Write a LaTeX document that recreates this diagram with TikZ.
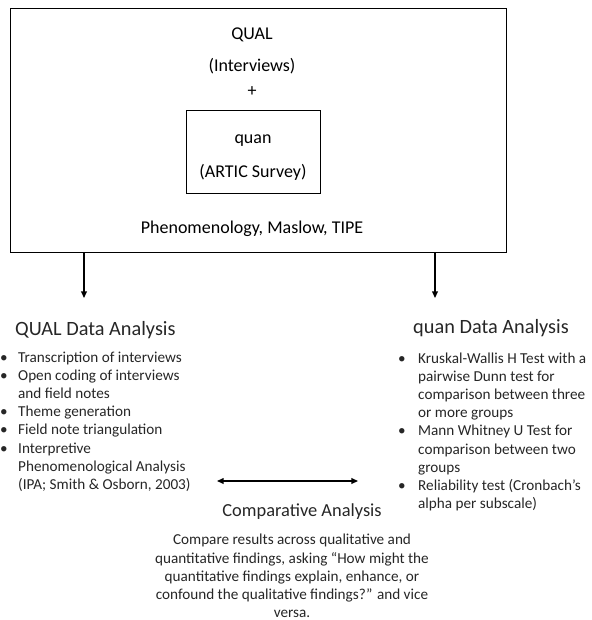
\documentclass[tikz,border=0pt]{standalone}
\usepackage{fontspec}
\setmainfont{Carlito}
\usetikzlibrary{arrows.meta,positioning}

\begin{document}
\begin{tikzpicture}[x=1pt,y=-1pt,
  box/.style={draw, line width=0.9pt, inner sep=0pt},
  txt/.style={inner sep=0pt, text=black!85},
  conn/.style={-{Triangle[length=2.3mm, width=2mm]}, line width=1.2pt},
  dconn/.style={{Triangle[length=2.3mm, width=2mm]}-{Triangle[length=2.3mm, width=2mm]}, line width=1.2pt}]
  \def\tfs{\fontsize{18}{21}\selectfont}
  \def\hfs{\fontsize{20.3}{24}\selectfont}
  \def\cfs{\fontsize{18.4}{22}\selectfont}
  \def\bfs{\fontsize{15.2}{18.2}\selectfont}

  % Fixed bounding box
  \path[use as bounding box] (0,0) rectangle (591,620);

  % Design box with the embedded quan box
  \node[box, minimum width=496pt, minimum height=244pt] (design) at (258,130) {};
  \node[box, minimum width=134pt, minimum height=83pt] (quanbox) at (253,151.5) {};
  \node[txt, font=\tfs, text=black] (qualtop) at (252,35) {QUAL};
  \node[txt, font=\tfs, text=black] (interv) at (252,66) {(Interviews)};
  \node[txt, font=\tfs, text=black] (plus) at (252,92) {+};
  \node[txt, font=\tfs, text=black] (quantop) at (253,141) {quan};
  \node[txt, font=\tfs, text=black] (artic) at (253,172) {(ARTIC Survey)};
  \node[txt, font=\tfs, text=black] (theory) at (252,229) {Phenomenology, Maslow, TIPE};

  % Arrows down to the two strands
  \coordinate (qualend) at (84,298);
  \coordinate (quanend) at (435,298);
  \draw[conn] (design.south -| qualend) -- (qualend);
  \draw[conn] (design.south -| quanend) -- (quanend);

  % QUAL strand
  \node[txt, font=\hfs, anchor=west] (qualhead) at (15,330) {QUAL Data Analysis};
  \node[txt, font=\bfs, anchor=base west] (quallist) at (0,362) {%
    \begin{tabular}[t]{@{}p{18pt}@{}l@{}}
      \textbullet & Transcription of interviews\\
      \textbullet & Open coding of interviews\\
                  & and field notes\\
      \textbullet & Theme generation\\
      \textbullet & Field note triangulation\\
      \textbullet & Interpretive\\
                  & Phenomenological Analysis\\
                  & (IPA; Smith \& Osborn, 2003)
    \end{tabular}};

  % quan strand
  \node[txt, font=\hfs] (quanhead) at (491,328) {quan Data Analysis};
  \node[txt, font=\bfs, anchor=base west] (quanlist) at (398,363) {%
    \begin{tabular}[t]{@{}p{20pt}@{}l@{}}
      \textbullet & Kruskal-Wallis H Test with a\\
                  & pairwise Dunn test for\\
                  & comparison between three\\
                  & or more groups\\
      \textbullet & Mann Whitney U Test for\\
                  & comparison between two\\
                  & groups\\
      \textbullet & Reliability test (Cronbach's\\
                  & alpha per subscale)
    \end{tabular}};

  % Comparative analysis
  \coordinate (cmpl) at (217,481);
  \coordinate (cmpr) at (358,481);
  \draw[dconn] (cmpl) -- (cmpr);
  \node[txt, font=\cfs] (cmphead) at (302,512) {Comparative Analysis};
  \node[txt, font=\bfs, align=center] (cmptext) at (292,576) {%
    Compare results across qualitative and\\
    quantitative findings, asking “How might the\\
    quantitative findings explain, enhance, or\\
    confound the qualitative findings?” and vice\\
    versa.};

\end{tikzpicture}
\end{document}
